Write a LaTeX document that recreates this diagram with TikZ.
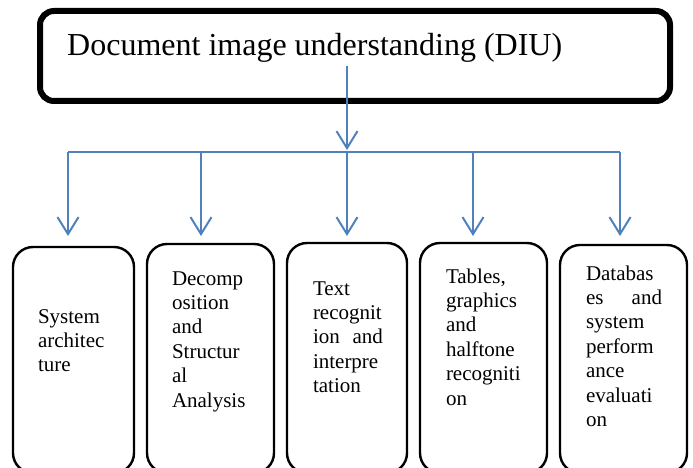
\documentclass[tikz,border=0pt]{standalone}
\usepackage{fontspec}
\setmainfont{Liberation Serif}
\usetikzlibrary{arrows.meta}
\definecolor{arrowblue}{RGB}{79,129,189}
\tikzset{
  topbox/.style={draw=black, line width=6pt, rounded corners=14pt, rectangle, inner sep=0pt, outer sep=0pt},
  lowbox/.style={draw=black, line width=2.4pt, rounded corners=20pt, rectangle, inner sep=0pt, outer sep=0pt, anchor=north west},
  boxtext/.style={inner sep=0pt, outer sep=0pt, anchor=base west, align=left, font=\fontsize{21}{24.4}\selectfont},
  conn/.style={draw=arrowblue, line width=2pt},
  arr/.style={conn, -{Straight Barb[length=17pt, width=21pt, line width=2pt]}}
}
\begin{document}
\begin{tikzpicture}[x=1pt, y=-1pt]
\useasboundingbox (0,0) rectangle (693,468);
% top box
\node[topbox, minimum width=630pt, minimum height=90pt, anchor=north west] (diu) at (40,11) {};
\node[inner sep=0pt, anchor=base west, font=\fontsize{32}{36}\selectfont] (diutext) at (67,56) {Document image understanding (DIU)};
% lower boxes
\node[lowbox, minimum width=121pt, minimum height=226pt] (b1) at (13,247) {};
\node[lowbox, minimum width=127pt, minimum height=229pt] (b2) at (147,244) {};
\node[lowbox, minimum width=120pt, minimum height=230pt] (b3) at (287,243) {};
\node[lowbox, minimum width=127pt, minimum height=230pt] (b4) at (420,243) {};
\node[lowbox, minimum width=127pt, minimum height=228pt] (b5) at (560,245) {};
% texts
\node[boxtext, text width=80pt] (t1) at (38,323) {System\\architec\\ture};
\node[boxtext, text width=80pt] (t2) at (172,285) {Decomp\\osition\\and\\Structur\\al\\Analysis};
\node[boxtext, text width=70pt] (t3) at (313,295) {Text\\recognit\\ion\hfill and\\interpre\\tation};
\node[boxtext, text width=85pt] (t4) at (446,283) {Tables,\\graphics\\and\\halftone\\recogniti\\on};
\node[boxtext, text width=76pt] (t5) at (586,280) {Databas\\es\hfill and\\system\\perform\\ance\\evaluati\\on};
% connectors
\coordinate (start) at (347,66);
\coordinate (bus1) at (68,152);
\coordinate (bus2) at (201,152);
\coordinate (bus3) at (347,152);
\coordinate (bus4) at (473,152);
\coordinate (bus5) at (620,152);
\draw[conn] (bus1) -- (bus5);
\draw[arr, shorten >=2pt] (start) -- (bus3);
\draw[arr, shorten >=11pt] (bus1) -- (bus1 |- b1.north);
\draw[arr, shorten >=8pt] (bus2) -- (bus2 |- b2.north);
\draw[arr, shorten >=7pt] (bus3) -- (bus3 |- b3.north);
\draw[arr, shorten >=7pt] (bus4) -- (bus4 |- b4.north);
\draw[arr, shorten >=9pt] (bus5) -- (bus5 |- b5.north);
\end{tikzpicture}
\end{document}
